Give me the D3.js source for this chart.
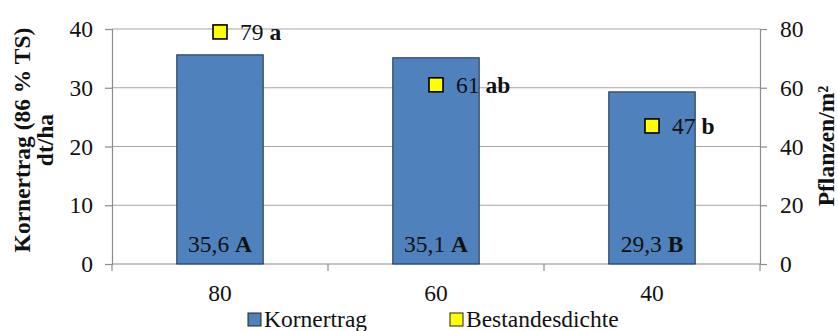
<!DOCTYPE html>
<html><head><meta charset="utf-8">
<script src="https://cdn.jsdelivr.net/npm/d3@7"></script>
<style>
body{margin:0;background:#fff;}
</style></head>
<body><svg id="c" width="838" height="331" font-family="Liberation Serif"></svg>
<script>
const categories = ["80","60","40"];
const kornertrag = [35.6, 35.1, 29.3];
const kornertragLetters = ["A","A","B"];
const bestandesdichte = [79, 61, 47];
const bestandesLetters = ["a","ab","b"];
const leftTicks = [0,10,20,30,40];
const rightTicks = [0,20,40,60,80];

const svg = d3.select("#c");
const L = 112, R = 760, T = 29, B = 264;
const fs = 23.5;
const FF = "Liberation Serif";

const x = d3.scaleBand().domain(categories).range([L,R]).paddingInner(0.6).paddingOuter(0.3);
const xOuter = d3.scaleBand().domain(categories).range([L,R]);
const yL = d3.scaleLinear().domain([0,40]).range([B,T]);
const yR = d3.scaleLinear().domain([0,80]).range([B,T]);

svg.append("g").selectAll("line").data(leftTicks.filter(d=>d>0)).join("line")
  .attr("x1",L).attr("x2",R).attr("y1",d=>yL(d)).attr("y2",d=>yL(d))
  .attr("stroke","#a6a6a6").attr("stroke-width",1.2);

const gl = svg.append("g").attr("transform",`translate(${L},0)`)
  .call(d3.axisLeft(yL).tickValues(leftTicks).tickSize(7).tickPadding(12));
const gr = svg.append("g").attr("transform",`translate(${R},0)`)
  .call(d3.axisRight(yR).tickValues(rightTicks).tickSize(7).tickPadding(13));
const gb = svg.append("g").attr("transform",`translate(0,${B})`)
  .call(d3.axisBottom(xOuter).tickSize(0).tickPadding(20));
[gl,gr,gb].forEach(g=>{
  g.attr("font-family",FF).attr("font-size",fs);
  g.select(".domain").attr("stroke","#8c8c8c").attr("stroke-width",1.2);
  g.selectAll(".tick line").attr("stroke","#8c8c8c").attr("stroke-width",1.2);
  g.selectAll("text").attr("font-size",fs).attr("font-family",FF).attr("fill","#111");
});
gb.select(".domain").attr("d",`M${L},0H${R}`);
const bounds = categories.map(c=>xOuter(c)).concat([R]);
svg.append("g").selectAll("line").data(bounds).join("line")
  .attr("x1",d=>d).attr("x2",d=>d).attr("y1",B).attr("y2",B+7)
  .attr("stroke","#8c8c8c").attr("stroke-width",1.2);

svg.append("g").selectAll("rect").data(kornertrag).join("rect")
  .attr("x",(d,i)=>x(categories[i])).attr("width",x.bandwidth())
  .attr("y",d=>yL(d)).attr("height",d=>B-yL(d))
  .attr("fill","#4f81bd").attr("stroke","#1c2f4a").attr("stroke-width",1);

const bl = svg.append("g").selectAll("text").data(kornertrag).join("text")
  .attr("x",(d,i)=>x(categories[i])+x.bandwidth()/2).attr("y",B-12)
  .attr("text-anchor","middle").attr("font-size",fs).attr("font-family",FF).attr("fill","#111");
bl.append("tspan").text(d=>d.toFixed(1).replace(".",",")+" ");
bl.append("tspan").attr("font-weight","bold").text((d,i)=>kornertragLetters[i]);

const ms = 14;
svg.append("g").selectAll("rect").data(bestandesdichte).join("rect")
  .attr("x",(d,i)=>xOuter(categories[i])+xOuter.bandwidth()/2-ms/2)
  .attr("y",d=>yR(d)-ms/2).attr("width",ms).attr("height",ms)
  .attr("fill","#ffff00").attr("stroke","#000").attr("stroke-width",1.6);
const ml = svg.append("g").selectAll("text").data(bestandesdichte).join("text")
  .attr("x",(d,i)=>xOuter(categories[i])+xOuter.bandwidth()/2+20)
  .attr("y",d=>yR(d)+8).attr("font-size",fs).attr("font-family",FF).attr("fill","#111");
ml.append("tspan").text(d=>d+" ");
ml.append("tspan").attr("font-weight","bold").text((d,i)=>bestandesLetters[i]);

function vtitle(tx,ty,s){
  svg.append("text").attr("transform",`translate(${tx},${ty}) rotate(-90)`)
    .attr("text-anchor","middle").attr("dominant-baseline","central")
    .attr("font-size",fs).attr("font-weight","bold").attr("font-family",FF).attr("fill","#111").text(s);
}
vtitle(22,140,"Kornertrag (86 % TS)");
vtitle(45,140,"dt/ha");
vtitle(826,146,"Pflanzen/m²");

const legend = [{name:"Kornertrag",fill:"#4f81bd",x:248},{name:"Bestandesdichte",fill:"#ffff00",x:450}];
const lg = svg.append("g").selectAll("g").data(legend).join("g");
lg.append("rect").attr("x",d=>d.x).attr("y",313).attr("width",13).attr("height",13)
  .attr("fill",d=>d.fill).attr("stroke","#222").attr("stroke-width",1);
lg.append("text").attr("x",d=>d.x+16).attr("y",327).attr("font-size",fs).attr("font-family",FF).attr("fill","#111").text(d=>d.name);
</script></body></html>
